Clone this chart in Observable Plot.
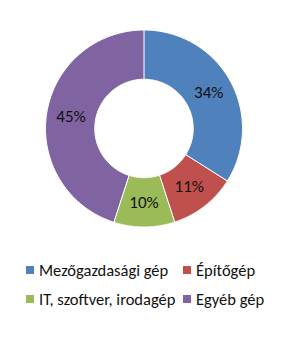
<!DOCTYPE html>
<html>
<head>
<meta charset="utf-8">
<script src="https://cdn.jsdelivr.net/npm/d3@7"></script>
<script src="https://cdn.jsdelivr.net/npm/@observablehq/plot@0.6"></script>
<style>
  html, body { margin: 0; padding: 0; background: #fff; }
  #wrap { position: relative; width: 300px; height: 339px; font-family: Carlito, "Liberation Sans", Arial, sans-serif; }
  .leg { position: absolute; font-size: 16.5px; color: #111; white-space: nowrap; line-height: 18px; height: 18px; display: flex; align-items: center; }
  .sw { width: 8px; height: 8px; display: inline-block; margin-right: 5px; flex: none; }
</style>
</head>
<body>
<div id="wrap"></div>
<script>
const categories = ["Mezőgazdasági gép", "Építőgép", "IT, szoftver, irodagép", "Egyéb gép"];
const values = [34, 11, 10, 45];
const colors = ["#4F81BD", "#C0504D", "#9BBB59", "#8064A2"];

const data = categories.map((name, i) => ({name, value: values[i], color: colors[i]}));
const arcs = d3.pie().sort(null).value(d => d.value)(data);

const inner = 0.5, outer = 1;
const poly = [];
arcs.forEach(a => {
  const n = 80;
  for (let k = 0; k <= n; k++) {
    const t = a.startAngle + (a.endAngle - a.startAngle) * k / n;
    poly.push({name: a.data.name, color: a.data.color, x: outer * Math.sin(t), y: outer * Math.cos(t)});
  }
  for (let k = n; k >= 0; k--) {
    const t = a.startAngle + (a.endAngle - a.startAngle) * k / n;
    poly.push({name: a.data.name, color: a.data.color, x: inner * Math.sin(t), y: inner * Math.cos(t)});
  }
});
const labels = arcs.map(a => {
  const m = (a.startAngle + a.endAngle) / 2, r = (inner + outer) / 2;
  return {text: a.data.value + "%", x: r * Math.sin(m), y: r * Math.cos(m)};
});

const chart = Plot.plot({
  width: 300,
  height: 256,
  marginLeft: 45,
  marginRight: 58,
  marginTop: 29.5,
  marginBottom: 29.5,
  x: {domain: [-1, 1], axis: null},
  y: {domain: [-1, 1], axis: null},
  style: {background: "white"},
  marks: [
    Plot.line(poly, {x: "x", y: "y", z: "name", fill: "color", stroke: "white", strokeWidth: 1, curve: "linear-closed"}),
    Plot.text(labels, {x: "x", y: "y", text: "text", fontSize: 17, fill: "#111", fontFamily: "Carlito, 'Liberation Sans', Arial, sans-serif"})
  ]
});
const wrap = document.getElementById("wrap");
chart.style.position = "absolute";
chart.style.left = "0px";
chart.style.top = "0px";
wrap.appendChild(chart);

const legendPos = [[26, 261], [183, 261], [26, 290], [183, 290]];
data.forEach((d, i) => {
  const el = document.createElement("div");
  el.className = "leg";
  el.style.left = legendPos[i][0] + "px";
  el.style.top = legendPos[i][1] + "px";
  const sw = document.createElement("span");
  sw.className = "sw";
  sw.style.background = d.color;
  el.appendChild(sw);
  el.appendChild(document.createTextNode(d.name));
  wrap.appendChild(el);
});
</script>
</body>
</html>
